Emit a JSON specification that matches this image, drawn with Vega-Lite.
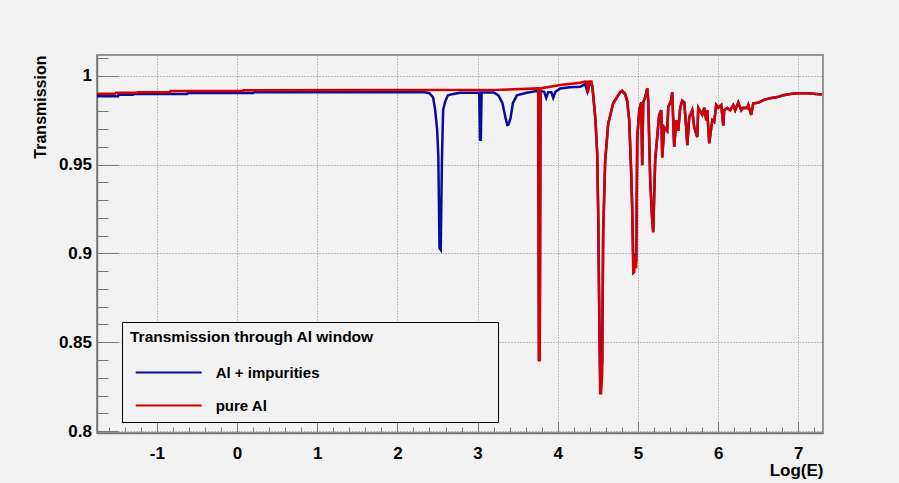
{
  "$schema": "https://vega.github.io/schema/vega-lite/v6.json",
  "width": 726,
  "height": 378,
  "autosize": {"type": "none"},
  "padding": {"left": 97, "top": 55, "right": 76, "bottom": 50},
  "background": "#f2f2f2",
  "config": {
    "view": {"stroke": "#777777", "strokeWidth": 1.5, "fill": "#f2f2f2"},
    "font": "Liberation Sans",
    "axis": {
      "labelFont": "Liberation Sans",
      "titleFont": "Liberation Sans",
      "labelColor": "black",
      "titleColor": "black",
      "labelFontWeight": "bold",
      "titleFontWeight": "bold",
      "labelFontSize": 17,
      "titleFontSize": 16,
      "domainColor": "#777777",
      "domainWidth": 1.5,
      "tickColor": "#777777",
      "tickWidth": 1,
      "gridColor": "#888888",
      "gridDash": [1, 2],
      "gridWidth": 1,
      "labelOverlap": false,
      "labelFlush": false
    },
    "legend": {"labelFont": "Liberation Sans", "titleFont": "Liberation Sans"}
  },
  "layer": [
    {
      "data": {"values": [
        {"x": -1.747, "t": 0.9885}, {"x": -1.485, "t": 0.9885}, {"x": -1.48, "t": 0.9893},
        {"x": -1.298, "t": 0.9893}, {"x": -1.29, "t": 0.9897}, {"x": -0.624, "t": 0.9897},
        {"x": -0.61, "t": 0.9903}, {"x": 0.2, "t": 0.9903}, {"x": 0.21, "t": 0.9907},
        {"x": 2.34, "t": 0.9907}, {"x": 2.4, "t": 0.9902}, {"x": 2.445, "t": 0.9878},
        {"x": 2.47, "t": 0.981}, {"x": 2.495, "t": 0.97}, {"x": 2.51, "t": 0.955},
        {"x": 2.525, "t": 0.903}, {"x": 2.54, "t": 0.902}, {"x": 2.555, "t": 0.952},
        {"x": 2.57, "t": 0.9807}, {"x": 2.595, "t": 0.9854}, {"x": 2.63, "t": 0.989},
        {"x": 2.7, "t": 0.9898}, {"x": 2.78, "t": 0.9905}, {"x": 3.02, "t": 0.9906},
        {"x": 3.03, "t": 0.964}, {"x": 3.04, "t": 0.964}, {"x": 3.05, "t": 0.9906},
        {"x": 3.2, "t": 0.9906}, {"x": 3.26, "t": 0.989}, {"x": 3.31, "t": 0.9846},
        {"x": 3.35, "t": 0.976}, {"x": 3.37, "t": 0.9723}, {"x": 3.385, "t": 0.9725},
        {"x": 3.41, "t": 0.976}, {"x": 3.44, "t": 0.9846}, {"x": 3.49, "t": 0.989},
        {"x": 3.61, "t": 0.9904}, {"x": 3.74, "t": 0.9914}, {"x": 3.756, "t": 0.9914},
        {"x": 3.765, "t": 0.84}, {"x": 3.775, "t": 0.84}, {"x": 3.785, "t": 0.9914},
        {"x": 3.83, "t": 0.991}, {"x": 3.856, "t": 0.9876}, {"x": 3.88, "t": 0.9908},
        {"x": 3.92, "t": 0.9908}, {"x": 3.943, "t": 0.9876}, {"x": 3.97, "t": 0.991},
        {"x": 4.03, "t": 0.9929}, {"x": 4.15, "t": 0.9935}, {"x": 4.28, "t": 0.9938},
        {"x": 4.34, "t": 0.9953}, {"x": 4.37, "t": 0.991}, {"x": 4.4, "t": 0.9957},
        {"x": 4.43, "t": 0.9945}, {"x": 4.47, "t": 0.975}, {"x": 4.492, "t": 0.956},
        {"x": 4.504, "t": 0.923}, {"x": 4.52, "t": 0.86}, {"x": 4.529, "t": 0.83},
        {"x": 4.54, "t": 0.83}, {"x": 4.554, "t": 0.84}, {"x": 4.566, "t": 0.911},
        {"x": 4.591, "t": 0.952}, {"x": 4.629, "t": 0.973}, {"x": 4.691, "t": 0.9845},
        {"x": 4.779, "t": 0.9908}, {"x": 4.803, "t": 0.9912}, {"x": 4.84, "t": 0.9895},
        {"x": 4.866, "t": 0.9855}, {"x": 4.891, "t": 0.975}, {"x": 4.916, "t": 0.945},
        {"x": 4.928, "t": 0.926}, {"x": 4.941, "t": 0.898}, {"x": 4.953, "t": 0.897},
        {"x": 4.966, "t": 0.9}, {"x": 4.978, "t": 0.895}, {"x": 4.991, "t": 0.965},
        {"x": 5.016, "t": 0.9806}, {"x": 5.041, "t": 0.985}, {"x": 5.053, "t": 0.9497},
        {"x": 5.066, "t": 0.985}, {"x": 5.091, "t": 0.988}, {"x": 5.116, "t": 0.993},
        {"x": 5.128, "t": 0.9863}, {"x": 5.153, "t": 0.941}, {"x": 5.178, "t": 0.9187},
        {"x": 5.19, "t": 0.912}, {"x": 5.215, "t": 0.9525}, {"x": 5.24, "t": 0.9655},
        {"x": 5.265, "t": 0.978}, {"x": 5.29, "t": 0.9806}, {"x": 5.303, "t": 0.954},
        {"x": 5.328, "t": 0.971}, {"x": 5.365, "t": 0.969}, {"x": 5.378, "t": 0.9824},
        {"x": 5.415, "t": 0.9863}, {"x": 5.427, "t": 0.9908}, {"x": 5.452, "t": 0.96},
        {"x": 5.477, "t": 0.975}, {"x": 5.502, "t": 0.969}, {"x": 5.527, "t": 0.982},
        {"x": 5.552, "t": 0.986}, {"x": 5.577, "t": 0.985}, {"x": 5.602, "t": 0.971},
        {"x": 5.615, "t": 0.961}, {"x": 5.64, "t": 0.9767}, {"x": 5.677, "t": 0.9806},
        {"x": 5.702, "t": 0.971}, {"x": 5.74, "t": 0.9655}, {"x": 5.752, "t": 0.982},
        {"x": 5.802, "t": 0.978}, {"x": 5.827, "t": 0.982}, {"x": 5.852, "t": 0.975},
        {"x": 5.864, "t": 0.9806}, {"x": 5.889, "t": 0.962}, {"x": 5.927, "t": 0.975},
        {"x": 5.951, "t": 0.974}, {"x": 5.976, "t": 0.9835}, {"x": 6.001, "t": 0.982},
        {"x": 6.039, "t": 0.9835}, {"x": 6.064, "t": 0.972}, {"x": 6.076, "t": 0.9806},
        {"x": 6.114, "t": 0.9818}, {"x": 6.151, "t": 0.9806}, {"x": 6.188, "t": 0.9835},
        {"x": 6.213, "t": 0.9806}, {"x": 6.251, "t": 0.985}, {"x": 6.288, "t": 0.9806},
        {"x": 6.313, "t": 0.982}, {"x": 6.363, "t": 0.9818}, {"x": 6.376, "t": 0.9835},
        {"x": 6.413, "t": 0.978}, {"x": 6.438, "t": 0.9845}, {"x": 6.5, "t": 0.9848},
        {"x": 6.563, "t": 0.9863}, {"x": 6.65, "t": 0.9874}, {"x": 6.737, "t": 0.988},
        {"x": 6.812, "t": 0.989}, {"x": 6.899, "t": 0.9897}, {"x": 6.987, "t": 0.9901},
        {"x": 7.112, "t": 0.9901}, {"x": 7.294, "t": 0.9895}
      ]},
      "mark": {"type": "line", "strokeWidth": 2.5, "clip": true},
      "encoding": {
        "x": {
          "field": "x", "type": "quantitative",
          "scale": {"domain": [-1.747, 7.308], "nice": false, "zero": false},
          "axis": {
            "title": "Log(E)",
            "titleFontSize": 17,
            "titleAnchor": "end",
            "titleAlign": "right",
            "titleBaseline": "alphabetic",
            "titleX": 726,
            "titleY": 42.5,
            "tickCount": 200,
            "values": [-1.6, -1.4, -1.2, -1, -0.8, -0.6, -0.4, -0.2, 0, 0.2, 0.4, 0.6, 0.8, 1, 1.2, 1.4, 1.6, 1.8, 2, 2.2, 2.4, 2.6, 2.8, 3, 3.2, 3.4, 3.6, 3.8, 4, 4.2, 4.4, 4.6, 4.8, 5, 5.2, 5.4, 5.6, 5.8, 6, 6.2, 6.4, 6.6, 6.8, 7, 7.2],
            "labelExpr": "abs(datum.value - round(datum.value)) < 0.001 ? '' + round(datum.value) : ''",
            "labelPadding": 23,
            "tickSize": {"condition": {"test": "abs(datum.value - round(datum.value)) < 0.001", "value": -11}, "value": -6},
            "grid": true,
            "gridOpacity": {"condition": {"test": "abs(datum.value - round(datum.value)) < 0.001", "value": 1}, "value": 0}
          }
        },
        "y": {
          "field": "t", "type": "quantitative",
          "scale": {"domain": [0.7989, 1.0117], "nice": false, "zero": false},
          "axis": {
            "title": "Transmission",
            "titleAnchor": "end",
            "titleAlign": "right",
            "titleBaseline": "alphabetic",
            "titleAngle": 270,
            "titleX": -52,
            "titleY": 0,
            "tickCount": 200,
            "values": [0.8, 0.81, 0.82, 0.83, 0.84, 0.85, 0.86, 0.87, 0.88, 0.89, 0.9, 0.91, 0.92, 0.93, 0.94, 0.95, 0.96, 0.97, 0.98, 0.99, 1, 1.01],
            "labelExpr": "abs(datum.value * 20 - round(datum.value * 20)) < 0.001 ? format(datum.value, '~g') : ''",
            "labelPadding": 26.5,
            "tickSize": {"condition": {"test": "abs(datum.value * 20 - round(datum.value * 20)) < 0.001", "value": -21}, "value": -11},
            "grid": true,
            "gridOpacity": {"condition": {"test": "abs(datum.value * 20 - round(datum.value * 20)) < 0.001", "value": 1}, "value": 0}
          }
        },
        "color": {
          "datum": "Al + impurities", "type": "nominal",
          "scale": {"domain": ["Al + impurities", "pure Al"], "range": ["#0a0a9c", "#d40000"]},
          "legend": {
            "orient": "none",
            "legendX": 25,
            "legendY": 267,
            "title": "Transmission through Al window\u00a0\u00a0\u00a0\u00a0\u00a0\u00a0\u00a0\u00a0\u00a0\u00a0\u00a0\u00a0\u00a0\u00a0\u00a0\u00a0\u00a0\u00a0\u00a0\u00a0\u00a0\u00a0\u00a0\u00a0\u00a0\u00a0\u00a0\u200b",
            "titleFontSize": 15.5,
            "titleFontWeight": "bold",
            "titleColor": "black",
            "titleLimit": 2000,
            "titlePadding": 18,
            "labelFontSize": 15,
            "labelFontWeight": "bold",
            "labelColor": "black",
            "labelLimit": 2000,
            "labelOffset": 38,
            "symbolType": "M-4.125,0H4.125",
            "symbolSize": 256,
            "symbolStrokeWidth": 2,
            "symbolOffset": 29.7,
            "rowPadding": 16,
            "padding": 8,
            "fillColor": "#f2f2f2",
            "strokeColor": "black"
          }
        }
      }
    },
    {
      "data": {"values": [
        {"x": -1.747, "t": 0.9899}, {"x": -1.522, "t": 0.9899}, {"x": -1.51, "t": 0.9904},
        {"x": -1.248, "t": 0.9904}, {"x": -1.24, "t": 0.9908}, {"x": -0.836, "t": 0.9908},
        {"x": -0.83, "t": 0.9914}, {"x": 0.075, "t": 0.9914}, {"x": 0.08, "t": 0.9918},
        {"x": 3.28, "t": 0.9921}, {"x": 3.756, "t": 0.9929}, {"x": 3.765, "t": 0.84},
        {"x": 3.775, "t": 0.84}, {"x": 3.785, "t": 0.9929}, {"x": 4.03, "t": 0.9948},
        {"x": 4.28, "t": 0.9961}, {"x": 4.34, "t": 0.9968}, {"x": 4.365, "t": 0.9966},
        {"x": 4.375, "t": 0.9905}, {"x": 4.39, "t": 0.9968}, {"x": 4.42, "t": 0.9968},
        {"x": 4.442, "t": 0.99}, {"x": 4.47, "t": 0.975}, {"x": 4.492, "t": 0.956},
        {"x": 4.504, "t": 0.923}, {"x": 4.52, "t": 0.85}, {"x": 4.529, "t": 0.8213},
        {"x": 4.54, "t": 0.8213}, {"x": 4.554, "t": 0.8325}, {"x": 4.566, "t": 0.911},
        {"x": 4.591, "t": 0.952}, {"x": 4.629, "t": 0.973}, {"x": 4.691, "t": 0.9845},
        {"x": 4.779, "t": 0.9908}, {"x": 4.803, "t": 0.9916}, {"x": 4.84, "t": 0.99},
        {"x": 4.866, "t": 0.9863}, {"x": 4.891, "t": 0.975}, {"x": 4.916, "t": 0.945},
        {"x": 4.928, "t": 0.926}, {"x": 4.941, "t": 0.889}, {"x": 4.953, "t": 0.8895},
        {"x": 4.966, "t": 0.898}, {"x": 4.978, "t": 0.8916}, {"x": 4.991, "t": 0.965},
        {"x": 5.016, "t": 0.9806}, {"x": 5.041, "t": 0.985}, {"x": 5.053, "t": 0.9497},
        {"x": 5.066, "t": 0.985}, {"x": 5.091, "t": 0.988}, {"x": 5.116, "t": 0.993},
        {"x": 5.128, "t": 0.9863}, {"x": 5.153, "t": 0.941}, {"x": 5.178, "t": 0.9187},
        {"x": 5.19, "t": 0.912}, {"x": 5.215, "t": 0.9525}, {"x": 5.24, "t": 0.9655},
        {"x": 5.265, "t": 0.978}, {"x": 5.29, "t": 0.9806}, {"x": 5.303, "t": 0.954},
        {"x": 5.328, "t": 0.971}, {"x": 5.365, "t": 0.969}, {"x": 5.378, "t": 0.9824},
        {"x": 5.415, "t": 0.9863}, {"x": 5.427, "t": 0.9908}, {"x": 5.452, "t": 0.96},
        {"x": 5.477, "t": 0.975}, {"x": 5.502, "t": 0.969}, {"x": 5.527, "t": 0.982},
        {"x": 5.552, "t": 0.986}, {"x": 5.577, "t": 0.985}, {"x": 5.602, "t": 0.971},
        {"x": 5.615, "t": 0.961}, {"x": 5.64, "t": 0.9767}, {"x": 5.677, "t": 0.9806},
        {"x": 5.702, "t": 0.971}, {"x": 5.74, "t": 0.9655}, {"x": 5.752, "t": 0.982},
        {"x": 5.802, "t": 0.978}, {"x": 5.827, "t": 0.982}, {"x": 5.852, "t": 0.975},
        {"x": 5.864, "t": 0.9806}, {"x": 5.889, "t": 0.962}, {"x": 5.927, "t": 0.975},
        {"x": 5.951, "t": 0.974}, {"x": 5.976, "t": 0.9835}, {"x": 6.001, "t": 0.982},
        {"x": 6.039, "t": 0.9835}, {"x": 6.064, "t": 0.972}, {"x": 6.076, "t": 0.9806},
        {"x": 6.114, "t": 0.9818}, {"x": 6.151, "t": 0.9806}, {"x": 6.188, "t": 0.9835},
        {"x": 6.213, "t": 0.9806}, {"x": 6.251, "t": 0.985}, {"x": 6.288, "t": 0.9806},
        {"x": 6.313, "t": 0.982}, {"x": 6.363, "t": 0.9818}, {"x": 6.376, "t": 0.9835},
        {"x": 6.413, "t": 0.978}, {"x": 6.438, "t": 0.9845}, {"x": 6.5, "t": 0.9848},
        {"x": 6.563, "t": 0.9863}, {"x": 6.65, "t": 0.9874}, {"x": 6.737, "t": 0.988},
        {"x": 6.812, "t": 0.989}, {"x": 6.899, "t": 0.9897}, {"x": 6.987, "t": 0.9901},
        {"x": 7.112, "t": 0.9901}, {"x": 7.294, "t": 0.9895}
      ]},
      "mark": {"type": "line", "strokeWidth": 2.5, "clip": true},
      "encoding": {
        "x": {"field": "x", "type": "quantitative"},
        "y": {"field": "t", "type": "quantitative"},
        "color": {"datum": "pure Al", "type": "nominal"}
      }
    }
  ]
}
